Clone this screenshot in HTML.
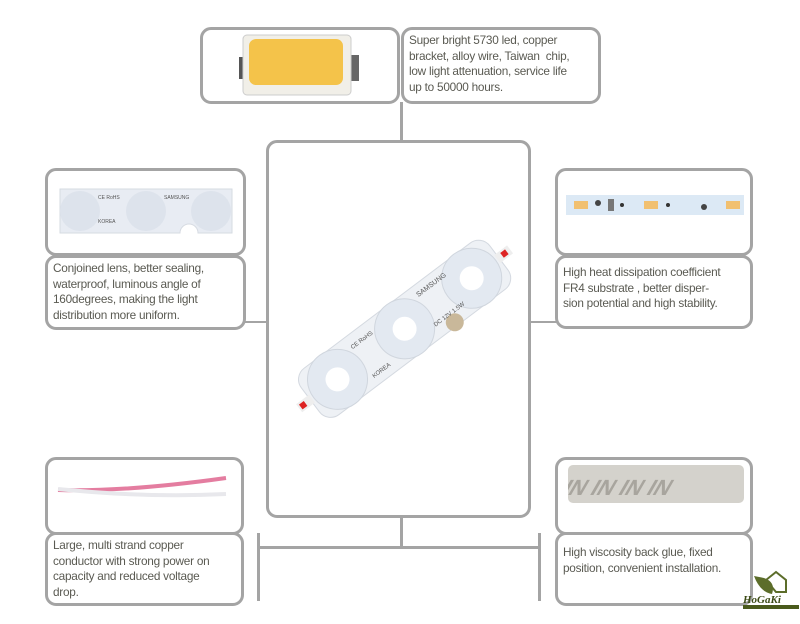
<!DOCTYPE html>
<html><head><meta charset="utf-8"><style>
html,body{margin:0;padding:0;background:#fff;}
body{width:800px;height:624px;position:relative;overflow:hidden;font-family:"Liberation Sans",sans-serif;}
.b{position:absolute;border:3px solid #a4a4a4;border-radius:11px;box-sizing:border-box;background:#fff;}
.t{font-size:11.8px;line-height:15.7px;color:#5a5a52;padding:3px 0 0 5px;letter-spacing:-0.25px;white-space:nowrap;}
.l{position:absolute;background:#a4a4a4;}
svg{position:absolute;}
</style></head><body>
<div class="l" style="left:400px;top:102px;width:3px;height:40px"></div>
<div class="l" style="left:244px;top:321px;width:24px;height:2px"></div>
<div class="l" style="left:529px;top:321px;width:28px;height:2px"></div>
<div class="l" style="left:400px;top:515px;width:3px;height:33px"></div>
<div class="l" style="left:257px;top:546px;width:284px;height:3px"></div>
<div class="l" style="left:257px;top:533px;width:3px;height:68px"></div>
<div class="l" style="left:538px;top:533px;width:3px;height:68px"></div>

<div class="b" style="left:200px;top:27px;width:200px;height:77px">
<svg style="left:32px;top:3px" width="130" height="66" viewBox="0 0 130 66">
<rect x="4" y="24" width="8" height="22" fill="#555"/><rect x="114" y="22" width="10" height="26" fill="#666"/>
<rect x="8" y="2" width="108" height="60" rx="4" fill="#f1efe8" stroke="#ccc"/>
<rect x="14" y="6" width="94" height="46" rx="7" fill="#f4c34a"/>
</svg></div>
<div class="b t" style="left:401px;top:27px;width:200px;height:77px">Super bright 5730 led, copper<br>bracket, alloy wire, Taiwan&nbsp; chip,<br>low light attenuation, service life<br>up to 50000 hours.</div>

<div class="b" style="left:266px;top:140px;width:265px;height:378px">
<svg style="left:15px;top:85px" width="240" height="200" viewBox="0 0 240 200">
<g transform="rotate(-37 120 100)">
<rect x="2" y="72" width="236" height="58" rx="14" fill="#eef1f5" stroke="#d4d9e0"/>
<rect x="-12" y="96" width="16" height="10" fill="#eee"/><rect x="-10" y="98" width="6" height="6" fill="#d22"/>
<rect x="236" y="96" width="16" height="10" fill="#eee"/><rect x="242" y="98" width="6" height="6" fill="#d22"/>
<circle cx="36" cy="101" r="30" fill="#e3e9f1" stroke="#d0d6de"/><circle cx="36" cy="101" r="12" fill="#fff"/>
<circle cx="120" cy="101" r="30" fill="#e3e9f1" stroke="#d0d6de"/><circle cx="120" cy="101" r="12" fill="#fff"/>
<circle cx="204" cy="101" r="30" fill="#e3e9f1" stroke="#d0d6de"/><circle cx="204" cy="101" r="12" fill="#fff"/>
<circle cx="164" cy="126" r="9" fill="#c9b89a"/>
<text x="150" y="84" font-size="7" fill="#555" font-family="Liberation Sans">SAMSUNG</text>
<text x="66" y="86" font-size="6" fill="#555" font-family="Liberation Sans">CE RoHS</text>
<text x="66" y="122" font-size="6" fill="#555" font-family="Liberation Sans">KOREA</text>
<text x="146" y="118" font-size="6" fill="#555" font-family="Liberation Sans">DC 12V 1.5W</text>
</g></svg></div>

<div class="b" style="left:45px;top:168px;width:201px;height:88px">
<svg style="left:8px;top:12px" width="180" height="56" viewBox="0 0 180 56">
<path d="M4 6 H176 V50 H142 A9 9 0 0 0 124 50 H4 Z" fill="#e8ecf3" stroke="#d6dbe2"/>
<circle cx="24" cy="28" r="20" fill="#dde3ec"/><circle cx="90" cy="28" r="20" fill="#dde3ec"/><circle cx="155" cy="28" r="20" fill="#dde3ec"/>
<text x="42" y="16" font-size="5" fill="#555" font-family="Liberation Sans">CE RoHS</text>
<text x="108" y="16" font-size="5" fill="#555" font-family="Liberation Sans">SAMSUNG</text>
<text x="42" y="40" font-size="5" fill="#555" font-family="Liberation Sans">KOREA</text>
</svg></div>
<div class="b t" style="left:45px;top:255px;width:201px;height:75px">Conjoined lens, better sealing,<br>waterproof, luminous angle of<br>160degrees, making the light<br>distribution more uniform.</div>

<div class="b" style="left:555px;top:168px;width:198px;height:88px">
<svg style="left:8px;top:20px" width="180" height="28" viewBox="0 0 180 28">
<rect x="0" y="4" width="178" height="20" fill="#dce9f5"/>
<rect x="8" y="10" width="14" height="8" fill="#f1c070"/><rect x="78" y="10" width="14" height="8" fill="#f1c070"/><rect x="160" y="10" width="14" height="8" fill="#f1c070"/>
<circle cx="32" cy="12" r="3" fill="#444"/><circle cx="56" cy="14" r="2" fill="#333"/><circle cx="102" cy="14" r="2" fill="#333"/><circle cx="138" cy="16" r="3" fill="#444"/>
<rect x="42" y="8" width="6" height="12" fill="#777"/></svg></div>
<div class="b t" style="left:555px;top:255px;width:198px;height:74px;padding-top:7px">High heat dissipation coefficient<br>FR4 substrate , better disper-<br>sion potential and high stability.</div>

<div class="b" style="left:45px;top:457px;width:199px;height:78px">
<svg style="left:8px;top:16px" width="180" height="30" viewBox="0 0 180 30">
<path d="M2 14 Q70 16 170 2" stroke="#e47da0" stroke-width="4" fill="none"/>
<path d="M2 13 Q90 22 170 18" stroke="#e8e8ec" stroke-width="4" fill="none"/>
</svg></div>
<div class="b t" style="left:45px;top:532px;width:199px;height:74px">Large, multi strand copper<br>conductor with strong power on<br>capacity and reduced voltage<br>drop.</div>

<div class="b" style="left:555px;top:457px;width:198px;height:78px">
<svg style="left:10px;top:5px" width="176" height="38" viewBox="0 0 176 38">
<rect x="0" y="0" width="176" height="38" rx="5" fill="#d4d2cc"/>
<text x="10" y="30" font-size="22" fill="#a8a59e" font-family="Liberation Sans" transform="skewX(-30)" font-weight="bold">IN IN IN IN</text>
</svg></div>
<div class="b t" style="left:555px;top:532px;width:198px;height:74px;padding-top:10px">High viscosity back glue, fixed<br>position, convenient installation.</div>

<svg style="left:742px;top:570px" width="58" height="40" viewBox="0 0 58 40">
<path d="M12 6 Q18 22 30 24 Q34 12 22 8 Z" fill="#5c6d2a"/><path d="M24 10 L34 2 L44 10 L44 22 L34 22 Z" fill="none" stroke="#5c6d2a" stroke-width="2"/>
<text x="1" y="33" font-size="11" font-weight="bold" font-style="italic" fill="#3b4a14" font-family="Liberation Serif">HoGaKi</text>
<rect x="1" y="35" width="56" height="4" fill="#4a5a1c"/></svg>
</body></html>
